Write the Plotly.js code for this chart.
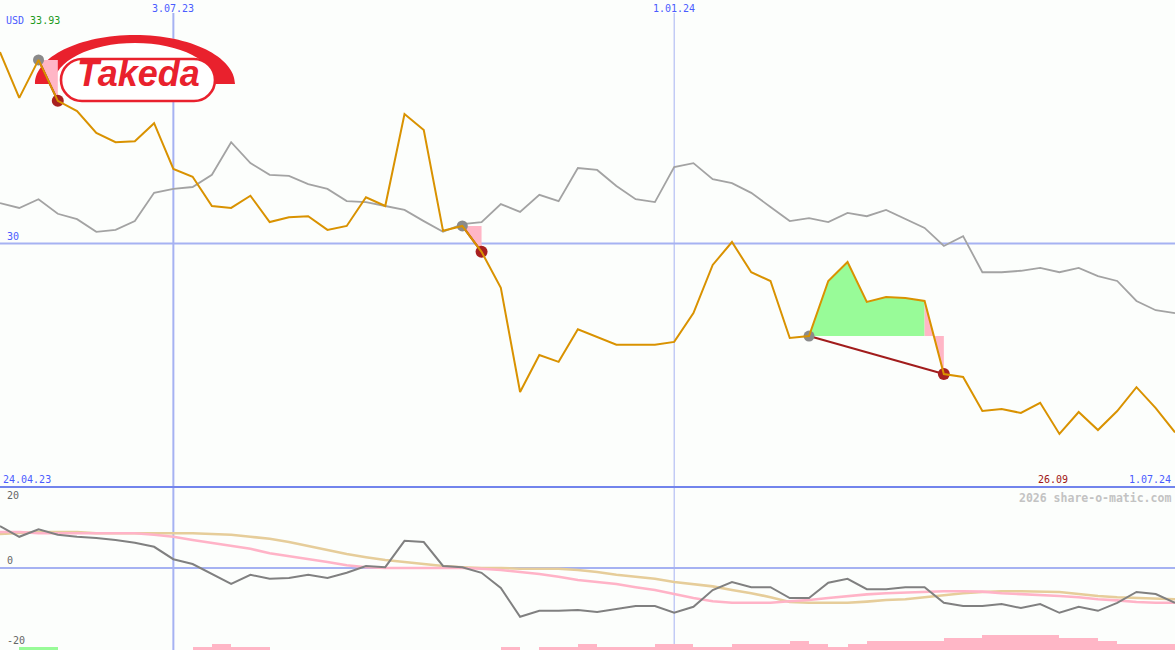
<!DOCTYPE html>
<html>
<head>
<meta charset="utf-8">
<script src="https://cdn.plot.ly/plotly-3.0.1.min.js"></script>
<style>
  html, body { margin: 0; padding: 0; background: #fcfefc; }
  #chart { width: 1175px; height: 650px; }
</style>
</head>
<body>
<div id="chart"></div>
<script>
// Weekly closes, 1 May 2023 – 1 Jul 2024
const weeks = [
  '2023-05-01','2023-05-08','2023-05-15','2023-05-22','2023-05-29','2023-06-05','2023-06-12','2023-06-19','2023-06-26','2023-07-03',
  '2023-07-10','2023-07-17','2023-07-24','2023-07-31','2023-08-07','2023-08-14','2023-08-21','2023-08-28','2023-09-04','2023-09-11',
  '2023-09-18','2023-09-25','2023-10-02','2023-10-09','2023-10-16','2023-10-23','2023-10-30','2023-11-06','2023-11-13','2023-11-20',
  '2023-11-27','2023-12-04','2023-12-11','2023-12-18','2023-12-25','2024-01-01','2024-01-08','2024-01-15','2024-01-22','2024-01-29',
  '2024-02-05','2024-02-12','2024-02-19','2024-02-26','2024-03-04','2024-03-11','2024-03-18','2024-03-25','2024-04-01','2024-04-08',
  '2024-04-15','2024-04-22','2024-04-29','2024-05-06','2024-05-13','2024-05-20','2024-05-27','2024-06-03','2024-06-10','2024-06-17',
  '2024-06-24','2024-07-01'
];

// Share price, USD
const price = [
  33.93, 32.99, 33.77, 32.93, 32.72, 32.27, 32.08, 32.10, 32.47, 31.53,
  31.37, 30.77, 30.73, 30.98, 30.44, 30.54, 30.56, 30.28, 30.36, 30.95,
  30.77, 32.66, 32.33, 30.26, 30.36, 29.83, 29.09, 26.95, 27.71, 27.57,
  28.24, 28.08, 27.92, 27.92, 27.92, 27.98, 28.57, 29.56, 30.03, 29.41,
  29.23, 28.06, 28.10, 29.23, 29.62, 28.80, 28.90, 28.88, 28.82, 27.32,
  27.26, 26.56, 26.60, 26.52, 26.73, 26.09, 26.54, 26.17, 26.56, 27.05,
  26.62, 26.12
];

// Benchmark index, rebased to the share price
const benchmark = [
  30.83, 30.73, 30.91, 30.61, 30.50, 30.24, 30.28, 30.46, 31.04, 31.12,
  31.16, 31.41, 32.08, 31.65, 31.41, 31.39, 31.22, 31.12, 30.87, 30.85,
  30.77, 30.69, 30.46, 30.24, 30.40, 30.44, 30.81, 30.65, 31.00, 30.87,
  31.55, 31.51, 31.18, 30.91, 30.85, 31.57, 31.65, 31.32, 31.24, 31.04,
  30.75, 30.46, 30.52, 30.44, 30.63, 30.56, 30.69, 30.50, 30.32, 29.95,
  30.15, 29.41, 29.41, 29.44, 29.50, 29.41, 29.50, 29.33, 29.23, 28.82,
  28.63, 28.57
];

// Momentum oscillator and its two averages
const momentum = [
  10.5, 7.8, 9.7, 8.3, 7.8, 7.5, 7.0, 6.3, 5.3, 2.2,
  1.0, -1.5, -4.0, -1.7, -2.7, -2.5, -1.7, -2.5, -1.2, 0.5,
  0.2, 6.8, 6.5, 0.5, 0.2, -1.2, -5.0, -12.2, -10.7, -10.7,
  -10.5, -11.0, -10.2, -9.5, -9.5, -11.2, -9.7, -5.5, -3.5, -4.8,
  -4.8, -7.5, -7.5, -3.7, -2.7, -5.3, -5.3, -4.8, -4.8, -8.7,
  -9.5, -9.5, -9.0, -10.0, -9.0, -11.2, -9.7, -10.7, -8.7, -6.0,
  -6.5, -8.7
];
const avgFast = [
  9.0, 9.0, 8.7, 8.7, 8.7, 8.7, 8.7, 8.7, 8.3, 7.8,
  7.0, 6.3, 5.5, 4.8, 3.7, 3.0, 2.2, 1.5, 0.7, 0.2,
  0.0, 0.0, 0.0, 0.0, 0.0, -0.2, -0.5, -1.0, -1.5, -2.2,
  -3.0, -3.5, -4.0, -4.8, -5.5, -6.5, -7.5, -8.3, -8.7, -8.7,
  -8.7, -8.3, -8.0, -7.5, -7.0, -6.6, -6.3, -6.1, -6.0, -5.8,
  -5.8, -5.9, -6.3, -6.5, -6.8, -7.0, -7.3, -7.8, -8.1, -8.5,
  -8.7, -8.7
];
const avgSlow = [
  8.5, 8.7, 9.0, 9.0, 9.0, 8.7, 8.7, 8.7, 8.7, 8.7,
  8.7, 8.5, 8.3, 7.8, 7.3, 6.5, 5.5, 4.5, 3.5, 2.7,
  2.0, 1.5, 1.0, 0.5, 0.2, 0.0, 0.0, -0.2, -0.2, -0.2,
  -0.5, -1.0, -1.7, -2.2, -2.7, -3.5, -4.0, -4.6, -5.5, -6.3,
  -7.3, -8.5, -8.7, -8.7, -8.7, -8.4, -8.0, -7.8, -7.3, -6.8,
  -6.3, -6.0, -5.8, -5.8, -5.9, -6.0, -6.5, -7.0, -7.3, -7.5,
  -7.6, -7.8
];

// Weekly signal strength (up / down)
const signalUp = [
  0,1,1,0,0,0,0,0,0,0, 0,0,0,0,0,0,0,0,0,0, 0,0,0,0,0,0,0,0,0,0,
  0,0,0,0,0,0,0,0,0,0, 0,0,0,0,0,0,0,0,0,0, 0,0,0,0,0,0,0,0,0,0, 0,0
];
const signalDown = [
  0,0,0,0,0,0,0,0,0,0, 1,2,1,1,0,0,0,0,0,0, 0,0,0,0,0,0,1,0,1,1,
  2,1,1,1,2,2,1,1,2,2, 2,3,2,1,2,3,3,3,3,4, 4,5,5,5,5,4,4,3,2,2, 2,0
];

// Trades: entry and exit weeks
const tradeEntries = ['2023-05-15', '2023-10-16', '2024-02-19'];
const tradeExits   = ['2023-05-22', '2023-10-23', '2024-04-08'];

const currency = 'USD';
const gridDates = ['2023-07-03', '2024-01-01'];
const gridDateLabels = ['3.07.23', '1.01.24'];
const startLabel = '24.04.23';
const endLabel = '1.07.24';
const priceGrid = [30];
const oscLabels = [20, 0, -20];

// ---- drawing ----
const W = 1175, H = 650;
const splitY = 163 / H;          // boundary between price and oscillator panes
const MONO = 'DejaVu Sans Mono, monospace';
const BLUE_TXT = '#4a5cff';
const GRID = '#a6b2f2';
const RED = '#e9212d';
const GREEN_FILL = '#98fb98';
const PINK_FILL = '#ffb6c6';

const idx = d => weeks.indexOf(d);
const traces = [];

// Profit / loss areas between the entry level and the price while a trade is open
tradeEntries.forEach((entry, t) => {
  const a = idx(entry), b = idx(tradeExits[t]);
  const level = price[a];
  let i = a;
  while (i < b) {
    const up = price[i + 1] >= level;
    let j = i;
    while (j < b && (price[j + 1] >= level) === up) j++;
    const xs = [weeks[i]], ys = [level];
    for (let k = i; k <= j; k++) { xs.push(weeks[k]); ys.push(price[k]); }
    xs.push(weeks[j], weeks[i]); ys.push(level, level);
    traces.push({
      x: xs, y: ys, xaxis: 'x', yaxis: 'y', type: 'scatter', mode: 'lines',
      fill: 'toself', fillcolor: up ? GREEN_FILL : PINK_FILL,
      line: { width: 0 }, hoverinfo: 'skip'
    });
    i = j;
  }
});

// Benchmark
traces.push({
  x: weeks, y: benchmark, xaxis: 'x', yaxis: 'y', type: 'scatter', mode: 'lines',
  line: { color: '#a3a3a3', width: 1.8 }
});

// Trade connectors
tradeEntries.forEach((entry, t) => {
  traces.push({
    x: [entry, tradeExits[t]], y: [price[idx(entry)], price[idx(tradeExits[t])]],
    xaxis: 'x', yaxis: 'y', type: 'scatter', mode: 'lines',
    line: { color: '#a11c1c', width: 2 }
  });
});

// Entry / exit markers
traces.push({
  x: tradeEntries, y: tradeEntries.map(d => price[idx(d)]),
  xaxis: 'x', yaxis: 'y', type: 'scatter', mode: 'markers',
  marker: { color: '#8a8a8a', size: 11 }
});
traces.push({
  x: tradeExits, y: tradeExits.map(d => price[idx(d)]),
  xaxis: 'x', yaxis: 'y', type: 'scatter', mode: 'markers',
  marker: { color: '#a82020', size: 12 }
});

// Share price
traces.push({
  x: weeks, y: price, xaxis: 'x', yaxis: 'y', type: 'scatter', mode: 'lines',
  line: { color: '#d99200', width: 2 }
});

// Signal bars along the bottom
const WEEK_MS = 7 * 24 * 3600 * 1000;
traces.push({
  x: weeks, y: signalUp, xaxis: 'x2', yaxis: 'y3', type: 'bar',
  width: WEEK_MS, offset: 0, marker: { color: GREEN_FILL, line: { width: 0 } }
});
traces.push({
  x: weeks, y: signalDown, xaxis: 'x2', yaxis: 'y3', type: 'bar',
  width: WEEK_MS, offset: 0, marker: { color: PINK_FILL, line: { width: 0 } }
});

// Oscillator pane
traces.push({
  x: weeks, y: avgSlow, xaxis: 'x2', yaxis: 'y2', type: 'scatter', mode: 'lines',
  line: { color: '#e6cd9a', width: 2.6 }
});
traces.push({
  x: weeks, y: avgFast, xaxis: 'x2', yaxis: 'y2', type: 'scatter', mode: 'lines',
  line: { color: '#ffb3c7', width: 2.6 }
});
traces.push({
  x: weeks, y: momentum, xaxis: 'x2', yaxis: 'y2', type: 'scatter', mode: 'lines',
  line: { color: '#808080', width: 2 }
});

// ---- logo geometry (pixel space -> paper space) ----
const pt = (x, y) => (x / W).toFixed(5) + ',' + (1 - y / H).toFixed(5);
const K = 0.5523;
function halfEllipse(cx, cy, rx, ry) {
  return 'M' + pt(cx - rx, cy) +
    ' C' + pt(cx - rx, cy - K * ry) + ' ' + pt(cx - K * rx, cy - ry) + ' ' + pt(cx, cy - ry) +
    ' C' + pt(cx + K * rx, cy - ry) + ' ' + pt(cx + rx, cy - K * ry) + ' ' + pt(cx + rx, cy) + ' Z';
}
function arch(cx, cy, rxo, ryo, rxi, ryi) {
  return 'M' + pt(cx - rxo, cy) +
    ' C' + pt(cx - rxo, cy - K * ryo) + ' ' + pt(cx - K * rxo, cy - ryo) + ' ' + pt(cx, cy - ryo) +
    ' C' + pt(cx + K * rxo, cy - ryo) + ' ' + pt(cx + rxo, cy - K * ryo) + ' ' + pt(cx + rxo, cy) +
    ' L' + pt(cx + rxi, cy) +
    ' C' + pt(cx + rxi, cy - K * ryi) + ' ' + pt(cx + K * rxi, cy - ryi) + ' ' + pt(cx, cy - ryi) +
    ' C' + pt(cx - K * rxi, cy - ryi) + ' ' + pt(cx - rxi, cy - K * ryi) + ' ' + pt(cx - rxi, cy) + ' Z';
}
function pill(x0, y0, x1, y1) {
  const r = (y1 - y0) / 2, c = K * r;
  return 'M' + pt(x0 + r, y0) + ' L' + pt(x1 - r, y0) +
    ' C' + pt(x1 - r + c, y0) + ' ' + pt(x1, y0 + r - c) + ' ' + pt(x1, y0 + r) +
    ' C' + pt(x1, y0 + r + c) + ' ' + pt(x1 - r + c, y1) + ' ' + pt(x1 - r, y1) +
    ' L' + pt(x0 + r, y1) +
    ' C' + pt(x0 + r - c, y1) + ' ' + pt(x0, y0 + r + c) + ' ' + pt(x0, y0 + r) +
    ' C' + pt(x0, y0 + r - c) + ' ' + pt(x0 + r - c, y0) + ' ' + pt(x0 + r, y0) + ' Z';
}

const shapes = [];
// date gridlines through both panes
gridDates.forEach((d, i) => {
  shapes.push({
    type: 'line', layer: 'below', xref: 'x', yref: 'paper',
    x0: d, x1: d, y0: 0, y1: 1 - 13 / H,
    line: { color: GRID, width: i === 0 ? 2 : 1 }
  });
});
priceGrid.forEach(v => shapes.push({
  type: 'line', layer: 'below', xref: 'paper', yref: 'y',
  x0: 0, x1: 1, y0: v, y1: v, line: { color: GRID, width: 2 }
}));
shapes.push({
  type: 'line', layer: 'below', xref: 'paper', yref: 'y2',
  x0: 0, x1: 1, y0: 0, y1: 0, line: { color: GRID, width: 2 }
});
shapes.push({
  type: 'line', layer: 'below', xref: 'paper', yref: 'paper',
  x0: 0, x1: 1, y0: splitY, y1: splitY, line: { color: '#7284ec', width: 2 }
});
// logo
shapes.push({ type: 'path', layer: 'below', xref: 'paper', yref: 'paper',
  path: halfEllipse(135, 84, 100, 49), fillcolor: '#ffffff', line: { width: 0 } });
shapes.push({ type: 'path', layer: 'below', xref: 'paper', yref: 'paper',
  path: arch(135, 84, 100, 49, 81, 41), fillcolor: RED, line: { width: 0 } });
shapes.push({ type: 'path', layer: 'below', xref: 'paper', yref: 'paper',
  path: pill(61, 59, 215, 101), fillcolor: '#ffffff', line: { color: RED, width: 2.6 } });

// ---- labels ----
const maxPrice = Math.max(...price);
const minPrice = Math.min(...price);
const minWeek = weeks[price.indexOf(minPrice)];
const font = (color, size) => ({ family: MONO, size: size || 10, color });

const annotations = [
  { xref: 'paper', yref: 'paper', x: 4 / W, y: 1 - 20 / H, xanchor: 'left', yanchor: 'middle',
    text: '<span style="color:' + BLUE_TXT + '">' + currency + '</span> <span style="color:#1c9a1c">' + maxPrice.toFixed(2) + '</span>',
    showarrow: false, font: font(BLUE_TXT) },
  { xref: 'paper', yref: 'paper', x: 138 / W, y: 1 - 74 / H, xanchor: 'center', yanchor: 'middle',
    text: 'Takeda', showarrow: false,
    font: { family: 'Liberation Sans, Arial, sans-serif', size: 36, color: RED, weight: 'bold', style: 'italic' } },
  { xref: 'paper', yref: 'paper', x: 1 / W, y: splitY, xanchor: 'left', yanchor: 'bottom',
    text: startLabel, showarrow: false, font: font(BLUE_TXT) },
  { xref: 'paper', yref: 'paper', x: 1 - 2 / W, y: splitY, xanchor: 'right', yanchor: 'bottom',
    text: endLabel, showarrow: false, font: font(BLUE_TXT) },
  { xref: 'x', yref: 'paper', x: minWeek, y: splitY, xanchor: 'center', yanchor: 'bottom', xshift: -6,
    text: minPrice.toFixed(2), showarrow: false, font: font('#a01515') },
  { xref: 'paper', yref: 'paper', x: 1 - 2 / W, y: splitY - 2 / H, xanchor: 'right', yanchor: 'top',
    text: '<b>2026 share-o-matic.com</b>', showarrow: false, font: font('#c3c3c3', 11.5) }
];
gridDates.forEach((d, i) => annotations.push({
  xref: 'x', yref: 'paper', x: d, y: 1, xanchor: 'center', yanchor: 'top', yshift: -1,
  text: gridDateLabels[i], showarrow: false, font: font(BLUE_TXT)
}));
priceGrid.forEach(v => annotations.push({
  xref: 'paper', yref: 'y', x: 5 / W, y: v, xanchor: 'left', yanchor: 'bottom',
  text: String(v), showarrow: false, font: font(BLUE_TXT)
}));
oscLabels.forEach(v => annotations.push({
  xref: 'paper', yref: 'y2', x: 5 / W, y: v, xanchor: 'left', yanchor: v > 0 ? 'top' : 'bottom',
  text: String(v), showarrow: false, font: font('#666666')
}));

const hidden = { showgrid: false, zeroline: false, showline: false, showticklabels: false, ticks: '', fixedrange: true };

const layout = {
  width: W, height: H,
  margin: { l: 0, r: 0, t: 0, b: 0, pad: 0 },
  paper_bgcolor: '#fcfefc',
  plot_bgcolor: 'rgba(0,0,0,0)',
  showlegend: false,
  hovermode: false,
  bargap: 0,
  barmode: 'overlay',
  xaxis: Object.assign({}, hidden, { type: 'date', domain: [0, 1], range: [weeks[0], weeks[weeks.length - 1]], anchor: 'y' }),
  xaxis2: Object.assign({}, hidden, { type: 'date', domain: [0, 1], matches: 'x', anchor: 'y2' }),
  yaxis: Object.assign({}, hidden, { domain: [splitY, 1], range: [25, 35], anchor: 'x' }),
  yaxis2: Object.assign({}, hidden, { domain: [0, splitY], range: [-20.5, 20.25], anchor: 'x2' }),
  yaxis3: Object.assign({}, hidden, { overlaying: 'y2', range: [0, 163 / 3], anchor: 'x2' }),
  shapes, annotations
};

Plotly.newPlot('chart', traces, layout, { staticPlot: true, displayModeBar: false });
</script>
</body>
</html>
